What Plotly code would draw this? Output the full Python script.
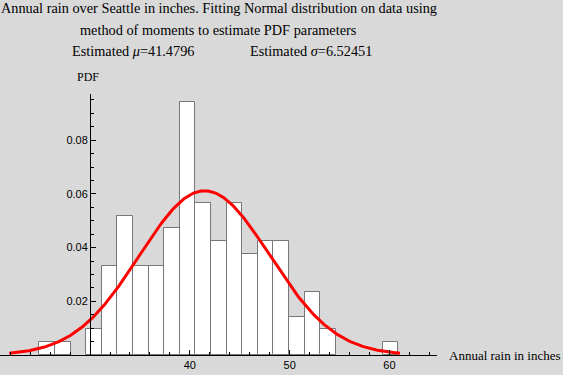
import numpy as np
import plotly.graph_objects as go

# ---- data ----
bin_edges = [24.92, 26.48, 28.05, 29.61, 31.17, 32.74, 34.30, 35.86, 37.43, 38.99,
             40.56, 42.12, 43.68, 45.24, 46.81, 48.37, 49.93, 51.50, 53.06, 54.62,
             56.19, 57.75, 59.31, 60.88]
densities = [0.0047, 0.0047, 0.0, 0.0095, 0.0333, 0.0518, 0.0333, 0.0333, 0.0474, 0.0943,
             0.0566, 0.0425, 0.0566, 0.0378, 0.0425, 0.0425, 0.0142, 0.0235, 0.0095, 0.0,
             0.0, 0.0, 0.0049]
mu = 41.4796
sigma = 6.52451
x_tick_vals = [40, 50, 60]
y_tick_vals = [0.02, 0.04, 0.06, 0.08]
y_tick_text = ["0.02", "0.04", "0.06", "0.08"]

# ---- layout geometry ----
W, H = 563, 375
ML, MR, MT, MB = 0, 126, 94, 20
PW, PH = W - ML - MR, H - MT - MB
x_range = [20.98, 64.76]
y_range = [0, 0.0972]

def px(xp):
    return (xp - ML) / PW

def py(yp):
    return (H - MB - yp) / PH

centers, widths, heights = [], [], []
for i, d in enumerate(densities):
    if d > 0:
        centers.append((bin_edges[i] + bin_edges[i + 1]) / 2)
        widths.append(bin_edges[i + 1] - bin_edges[i])
        heights.append(d)

xc = np.linspace(mu - 3 * sigma, mu + 3 * sigma, 300)
yc = np.exp(-((xc - mu) ** 2) / (2 * sigma ** 2)) / (sigma * np.sqrt(2 * np.pi))

fig = go.Figure()
fig.add_trace(go.Bar(x=centers, y=heights, width=widths,
                     marker=dict(color="white", line=dict(color="#777777", width=1)),
                     hoverinfo="skip"))
fig.add_trace(go.Scatter(x=xc, y=yc, mode="lines",
                         line=dict(color="red", width=3), hoverinfo="skip"))

bg = "#d9d9d9"
tickfont = dict(family="Liberation Sans, Arial, sans-serif", size=11, color="black")
serif = "Liberation Serif, Times New Roman, serif"

y_axis_pos = (30 - x_range[0]) / (x_range[1] - x_range[0])

fig.update_layout(
    width=W, height=H,
    margin=dict(l=ML, r=MR, t=MT, b=MB, pad=0),
    paper_bgcolor=bg, plot_bgcolor=bg,
    showlegend=False,
    bargap=0,
    xaxis=dict(range=x_range, showgrid=False, zeroline=False,
               showline=True, linecolor="black", linewidth=1,
               tickmode="array", tickvals=x_tick_vals,
               ticks="inside", ticklen=5, tickcolor="black", tickwidth=1,
               minor=dict(tickmode="linear", tick0=0, dtick=2, ticks="inside",
                          ticklen=3, tickcolor="black", tickwidth=1),
               tickfont=tickfont, anchor="y"),
    yaxis=dict(range=y_range, showgrid=False, zeroline=False,
               showline=True, linecolor="black", linewidth=1,
               anchor="free", position=y_axis_pos,
               tickmode="array", tickvals=y_tick_vals, ticktext=y_tick_text,
               ticks="inside", ticklen=5, tickcolor="black", tickwidth=1,
               minor=dict(tickmode="linear", tick0=0, dtick=0.005, ticks="inside",
                          ticklen=3, tickcolor="black", tickwidth=1),
               tickfont=tickfont),
)

def ann(text, x, y, xanchor="center", size=14.3, family=serif):
    fig.add_annotation(text=text, x=px(x), y=py(y), xref="paper", yref="paper",
                       xanchor=xanchor, yanchor="middle", showarrow=False,
                       font=dict(family=family, size=size, color="black"))

ann("Annual rain over Seattle in inches. Fitting Normal distribution on data using", 219, 8)
ann("method of moments to estimate PDF parameters", 218, 30)
ann("Estimated <i>μ</i>=41.4796", 70, 51, xanchor="left")
ann("Estimated <i>σ</i>=6.52451", 248, 51, xanchor="left")
ann("PDF", 88, 77, size=12)
ann("Annual rain in inches", 447, 355, xanchor="left", size=13)

fig.write_html("out.html",
               config={"displayModeBar": False},
               post_script="document.body.style.margin='0';document.body.style.overflow='hidden';")
